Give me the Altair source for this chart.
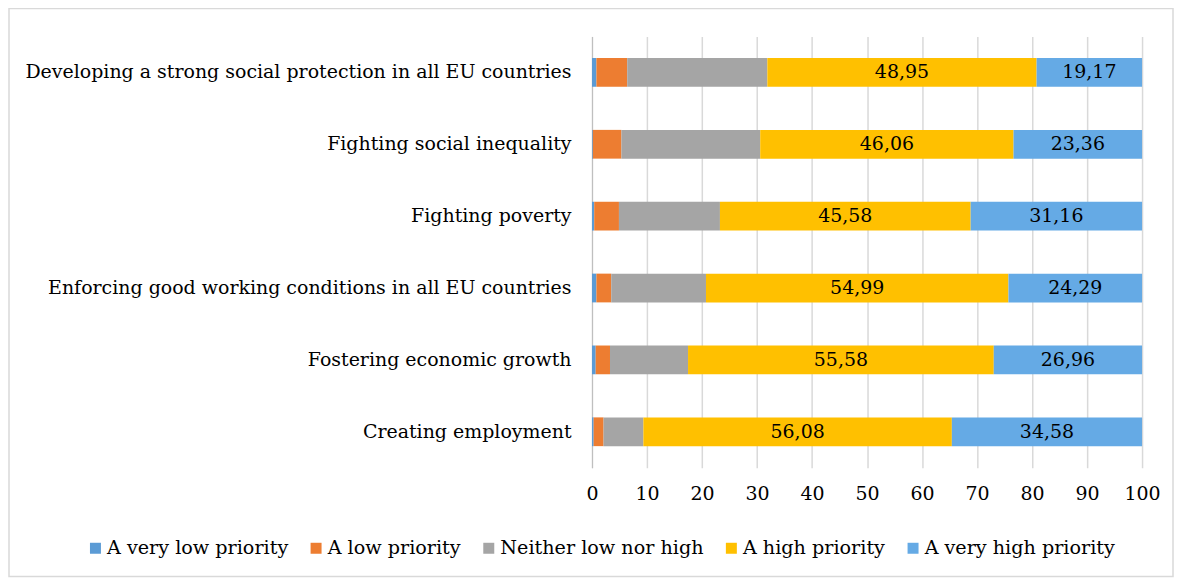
import altair as alt
import pandas as pd

categories = [
    "Developing a strong social protection in all EU countries",
    "Fighting social inequality",
    "Fighting poverty",
    "Enforcing good working conditions in all EU countries",
    "Fostering economic growth",
    "Creating employment",
]
levels = ["A very low priority", "A low priority", "Neither low nor high",
          "A high priority", "A very high priority"]
colors = ["#5B9BD5", "#ED7D31", "#A5A5A5", "#FFC000", "#65AAE5"]

very_low = [0.8, 0.15, 0.4, 0.8, 0.67, 0.3]
low = [5.6, 5.2, 4.5, 2.7, 2.6, 1.8]
neither = [25.48, 25.23, 18.36, 17.22, 14.19, 7.24]
high = [48.95, 46.06, 45.58, 54.99, 55.58, 56.08]
very_high = [19.17, 23.36, 31.16, 24.29, 26.96, 34.58]
x_ticks = [0, 10, 20, 30, 40, 50, 60, 70, 80, 90, 100]

series = [very_low, low, neither, high, very_high]
rows = []
for li, (lev, vals) in enumerate(zip(levels, series)):
    for cat, v in zip(categories, vals):
        rows.append({"category": cat, "level": lev, "order": li, "value": v})
df = pd.DataFrame(rows)

FONT = "DejaVu Serif"
FS = 19

base = alt.Chart(df).transform_stack(
    stack="value",
    groupby=["category"],
    sort=[alt.SortField("order", "ascending")],
    as_=["x0", "x1"],
)

yenc = alt.Y(
    "category:N",
    sort=categories,
    scale=alt.Scale(paddingInner=0.6, paddingOuter=0.3),
    axis=alt.Axis(
        title=None, ticks=False, labelFont=FONT, labelFontSize=FS,
        labelColor="#000000", labelPadding=21, labelLimit=0,
        domainColor="#BFBFBF", domainWidth=1, grid=False,
    ),
)

bars = base.mark_bar().encode(
    y=yenc,
    x=alt.X(
        "x0:Q",
        scale=alt.Scale(domain=[0, 100], nice=False),
        axis=alt.Axis(
            title=None, values=x_ticks, ticks=False, domain=False,
            grid=True, gridColor="#D9D9D9", gridWidth=1.5,
            labelFont=FONT, labelFontSize=FS, labelColor="#000000",
            labelPadding=17, labelFlush=False,
        ),
    ),
    x2="x1:Q",
    color=alt.Color(
        "level:N",
        sort=levels,
        scale=alt.Scale(domain=levels, range=colors),
        legend=alt.Legend(
            title=None, orient="none", direction="horizontal",
            legendX=-507, legendY=503, symbolType="square",
            symbolSize=121, symbolStrokeWidth=0, labelFont=FONT,
            labelFontSize=19.2, labelColor="#000000", labelOffset=2,
            columnPadding=18, labelLimit=0,
        ),
    ),
    order=alt.Order("order:Q"),
)

labels = base.transform_filter(
    alt.FieldOneOfPredicate(field="level", oneOf=["A high priority", "A very high priority"])
).transform_calculate(
    mid="(datum.x0 + datum.x1) / 2",
    lab="replace(format(datum.value, '.2f'), '.', ',')",
).mark_text(font=FONT, fontSize=FS, color="#000000").encode(
    y=alt.Y("category:N", sort=categories),
    x=alt.X("mid:Q"),
    text="lab:N",
)

frame = alt.Chart(pd.DataFrame({"a": [0]})).mark_rect(
    fill="white", fillOpacity=0, stroke="#D9D9D9", strokeWidth=1.5, clip=False
).encode(
    x=alt.value(-584), x2=alt.value(582), y=alt.value(-28), y2=alt.value(541)
)

chart = alt.layer(frame, bars, labels).properties(
    width=551,
    height=432,
    autosize=alt.AutoSizeParams(type="none"),
    padding={"left": 585, "top": 28, "right": 32, "bottom": 111},
).configure_view(stroke=None)

chart.save("out.html", embed_options={"renderer": "svg", "actions": False})
